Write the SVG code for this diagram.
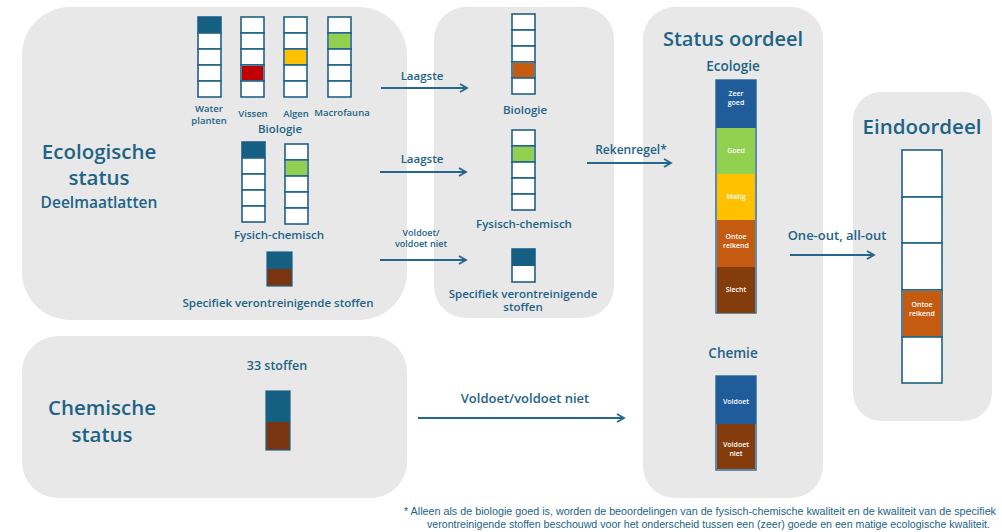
<svg xmlns="http://www.w3.org/2000/svg" width="1002" height="532" viewBox="0 0 1002 532">
<defs>
<marker id="ah" markerWidth="10" markerHeight="10" refX="8" refY="5" orient="auto" markerUnits="userSpaceOnUse">
<path d="M1,1 L8,5 L1,9" fill="none" stroke="#23688c" stroke-width="1.8"/>
</marker>
</defs>
<style>
.panel{fill:#e8e8e8}
.c{fill:#fff;stroke:#1f6285;stroke-width:1.6}
.d{fill:#155f82}
.t{font-family:"Open Sans","Noto Sans",sans-serif;fill:#1d6386;text-anchor:middle;font-weight:600}
.w{font-family:"Open Sans","Noto Sans",sans-serif;fill:#fff;text-anchor:middle;font-weight:600;font-size:7px}
.big{font-size:20.5px}
.lbl{font-size:9.5px}
.mid{font-size:11.5px}
.arr{stroke:#23688c;stroke-width:2;fill:none}
.note{font-family:"Liberation Sans","Open Sans",sans-serif;fill:#1d6386;font-size:10.5px}
</style>
<g id="panel-ecologisch">
<rect class="panel" x="22" y="7" width="385" height="313" rx="48"/>
<text class="t big" x="99" y="159">Ecologische</text>
<text class="t big" x="99" y="185">status</text>
<text class="t" x="99" y="208" font-size="15.5">Deelmaatlatten</text>
</g>
<g id="col-waterplanten">
<rect class="c" x="198" y="17" width="23" height="16"/><rect class="d" x="198" y="17" width="23" height="16"/>
<rect class="c" x="198" y="33" width="23" height="16"/><rect class="c" x="198" y="49" width="23" height="16"/><rect class="c" x="198" y="65" width="23" height="16"/><rect class="c" x="198" y="81" width="23" height="16"/>
<text class="t lbl" x="209" y="112">Water</text><text class="t lbl" x="209" y="124">planten</text>
</g>
<g id="col-vissen">
<rect class="c" x="241" y="17" width="23" height="16"/><rect class="c" x="241" y="33" width="23" height="16"/><rect class="c" x="241" y="49" width="23" height="16"/><rect class="c" x="241" y="65" width="23" height="16"/><rect class="c" x="241" y="81" width="23" height="16"/>
<rect x="242" y="66" width="21" height="14" fill="#c00000"/>
<text class="t lbl" x="253" y="117">Vissen</text>
</g>
<g id="col-algen">
<rect class="c" x="284" y="17" width="23" height="16"/><rect class="c" x="284" y="33" width="23" height="16"/><rect class="c" x="284" y="49" width="23" height="16"/><rect class="c" x="284" y="65" width="23" height="16"/><rect class="c" x="284" y="81" width="23" height="16"/>
<rect x="285" y="50" width="21" height="14" fill="#ffc000"/>
<text class="t lbl" x="296" y="117">Algen</text>
</g>
<g id="col-macrofauna">
<rect class="c" x="328" y="17" width="23" height="16"/><rect class="c" x="328" y="33" width="23" height="16"/><rect class="c" x="328" y="49" width="23" height="16"/><rect class="c" x="328" y="65" width="23" height="16"/><rect class="c" x="328" y="81" width="23" height="16"/>
<rect x="329" y="34" width="21" height="14" fill="#92d050"/>
<text class="t lbl" x="342" y="116">Macrofauna</text>
</g>
<g id="label-biologie">
<text class="t mid" x="280" y="133">Biologie</text>
</g>
<g id="col-fc1">
<rect class="c" x="242" y="142" width="23" height="16"/><rect class="d" x="242" y="142" width="23" height="16"/>
<rect class="c" x="242" y="158" width="23" height="16"/><rect class="c" x="242" y="174" width="23" height="16"/><rect class="c" x="242" y="190" width="23" height="16"/><rect class="c" x="242" y="206" width="23" height="16"/>
</g>
<g id="col-fc2">
<rect class="c" x="285" y="144" width="23" height="16"/><rect class="c" x="285" y="160" width="23" height="16"/><rect class="c" x="285" y="176" width="23" height="16"/><rect class="c" x="285" y="192" width="23" height="16"/><rect class="c" x="285" y="208" width="23" height="16"/>
<rect x="286" y="161" width="21" height="14" fill="#92d050"/>
<text class="t mid" x="279" y="239">Fysich-chemisch</text>
</g>
<g id="box-svs">
<rect x="267" y="252" width="25" height="34" fill="#7a3510" stroke="#1f6285" stroke-width="1.2"/>
<rect x="267" y="252" width="25" height="17" class="d"/>
<text class="t mid" x="278" y="307">Specifiek verontreinigende stoffen</text>
</g>
<g id="panel-midden">
<rect class="panel" x="434" y="7" width="180" height="311" rx="32"/>
</g>
<g id="col-biologie">
<rect class="c" x="512" y="14" width="23" height="16"/><rect class="c" x="512" y="30" width="23" height="16"/><rect class="c" x="512" y="46" width="23" height="16"/><rect class="c" x="512" y="62" width="23" height="16"/><rect class="c" x="512" y="78" width="23" height="16"/>
<rect x="513" y="63" width="21" height="14" fill="#c55a11"/>
<text class="t mid" x="525" y="114">Biologie</text>
</g>
<g id="col-fysisch">
<rect class="c" x="512" y="130" width="23" height="16"/><rect class="c" x="512" y="146" width="23" height="16"/><rect class="c" x="512" y="162" width="23" height="16"/><rect class="c" x="512" y="178" width="23" height="16"/><rect class="c" x="512" y="194" width="23" height="16"/>
<rect x="513" y="147" width="21" height="14" fill="#92d050"/>
<text class="t mid" x="524" y="228">Fysisch-chemisch</text>
</g>
<g id="box-svs2">
<rect class="c" x="512" y="249" width="23" height="33"/>
<rect class="d" x="512" y="249" width="23" height="17"/>
<text class="t mid" x="523" y="298">Specifiek verontreinigende</text>
<text class="t mid" x="523" y="311">stoffen</text>
</g>
<g id="panel-status">
<rect class="panel" x="643" y="7" width="180" height="491" rx="32"/>
<text class="t" x="733" y="46" font-size="20">Status oordeel</text>
<text class="t" x="733" y="71" font-size="13.5">Ecologie</text>
<text class="t" x="733" y="358" font-size="13.5">Chemie</text>
</g>
<g id="col-ecologie">
<rect x="716" y="80" width="40" height="233" fill="none" stroke="#2f6f96" stroke-width="1.5"/>
<rect x="716" y="80" width="40" height="48" fill="#1f5c99"/>
<rect x="717" y="128" width="38" height="46" fill="#92d050"/>
<rect x="717" y="174" width="38" height="46" fill="#ffc000"/>
<rect x="717" y="220" width="38" height="47" fill="#c55a11"/>
<rect x="717" y="267" width="38" height="46" fill="#843c0c"/>
<text class="w" x="736" y="96">Zeer</text><text class="w" x="736" y="105">goed</text>
<text class="w" x="736" y="153">Goed</text>
<text class="w" x="736" y="199">Matig</text>
<text class="w" x="736" y="239">Ontoe</text><text class="w" x="736" y="248">reikend</text>
<text class="w" x="736" y="292">Slecht</text>
</g>
<g id="col-chemie">
<rect x="716" y="376" width="40" height="94" fill="none" stroke="#2f6f96" stroke-width="1.5"/>
<rect x="716" y="376" width="40" height="48" fill="#1f5c99"/>
<rect x="717" y="424" width="38" height="45" fill="#843c0c"/>
<text class="w" x="736" y="404">Voldoet</text>
<text class="w" x="736" y="447">Voldoet</text><text class="w" x="736" y="456">niet</text>
</g>
<g id="panel-eindoordeel">
<rect class="panel" x="853" y="92" width="139" height="329" rx="28"/>
<text class="t big" x="922" y="134">Eindoordeel</text>
</g>
<g id="col-eindoordeel">
<rect class="c" x="902" y="150" width="40" height="47"/><rect class="c" x="902" y="197" width="40" height="46"/><rect class="c" x="902" y="243" width="40" height="47"/><rect class="c" x="902" y="290" width="40" height="47"/><rect class="c" x="902" y="337" width="40" height="46"/>
<rect x="903" y="291" width="38" height="45" fill="#c55a11"/>
<text class="w" x="922" y="307">Ontoe</text><text class="w" x="922" y="316">reikend</text>
</g>
<g id="panel-chemisch">
<rect class="panel" x="22" y="336" width="385" height="162" rx="36"/>
<text class="t big" x="102" y="415">Chemische</text>
<text class="t big" x="102" y="442">status</text>
<text class="t" x="277" y="370" font-size="12.5">33 stoffen</text>
</g>
<g id="box-33">
<rect x="266" y="391" width="24" height="59" fill="#7a3510" stroke="#1f6285" stroke-width="1.2"/>
<rect class="d" x="266" y="391" width="24" height="31"/>
</g>
<g id="connectors">
<line class="arr" x1="381" y1="88" x2="467" y2="88" marker-end="url(#ah)"/>
<text class="t mid" x="422" y="80">Laagste</text>
<line class="arr" x1="380" y1="172" x2="466" y2="172" marker-end="url(#ah)"/>
<text class="t mid" x="422" y="163">Laagste</text>
<line class="arr" x1="380" y1="260" x2="466" y2="260" marker-end="url(#ah)"/>
<text class="t" x="421" y="236" font-size="9">Voldoet/</text>
<text class="t" x="421" y="247" font-size="9">voldoet niet</text>
<line class="arr" x1="587" y1="163" x2="671" y2="163" marker-end="url(#ah)"/>
<text class="t" x="631" y="154" font-size="12">Rekenregel*</text>
<line class="arr" x1="790" y1="255" x2="874" y2="255" marker-end="url(#ah)"/>
<text class="t" x="837" y="240" font-size="13">One-out, all-out</text>
<line class="arr" x1="418" y1="418" x2="624" y2="418" marker-end="url(#ah)"/>
<text class="t" x="525" y="403" font-size="13">Voldoet/voldoet niet</text>
</g>
<g id="footnote">
<text class="note" x="404" y="515" textLength="592" lengthAdjust="spacingAndGlyphs">* Alleen als de biologie goed is, worden de beoordelingen van de fysisch-chemische kwaliteit en de kwaliteit van de specifiek</text>
<text class="note" x="427" y="528" textLength="563" lengthAdjust="spacingAndGlyphs">verontreinigende stoffen beschouwd voor het onderscheid tussen een (zeer) goede en een matige ecologische kwaliteit.</text>
</g>
</svg>
